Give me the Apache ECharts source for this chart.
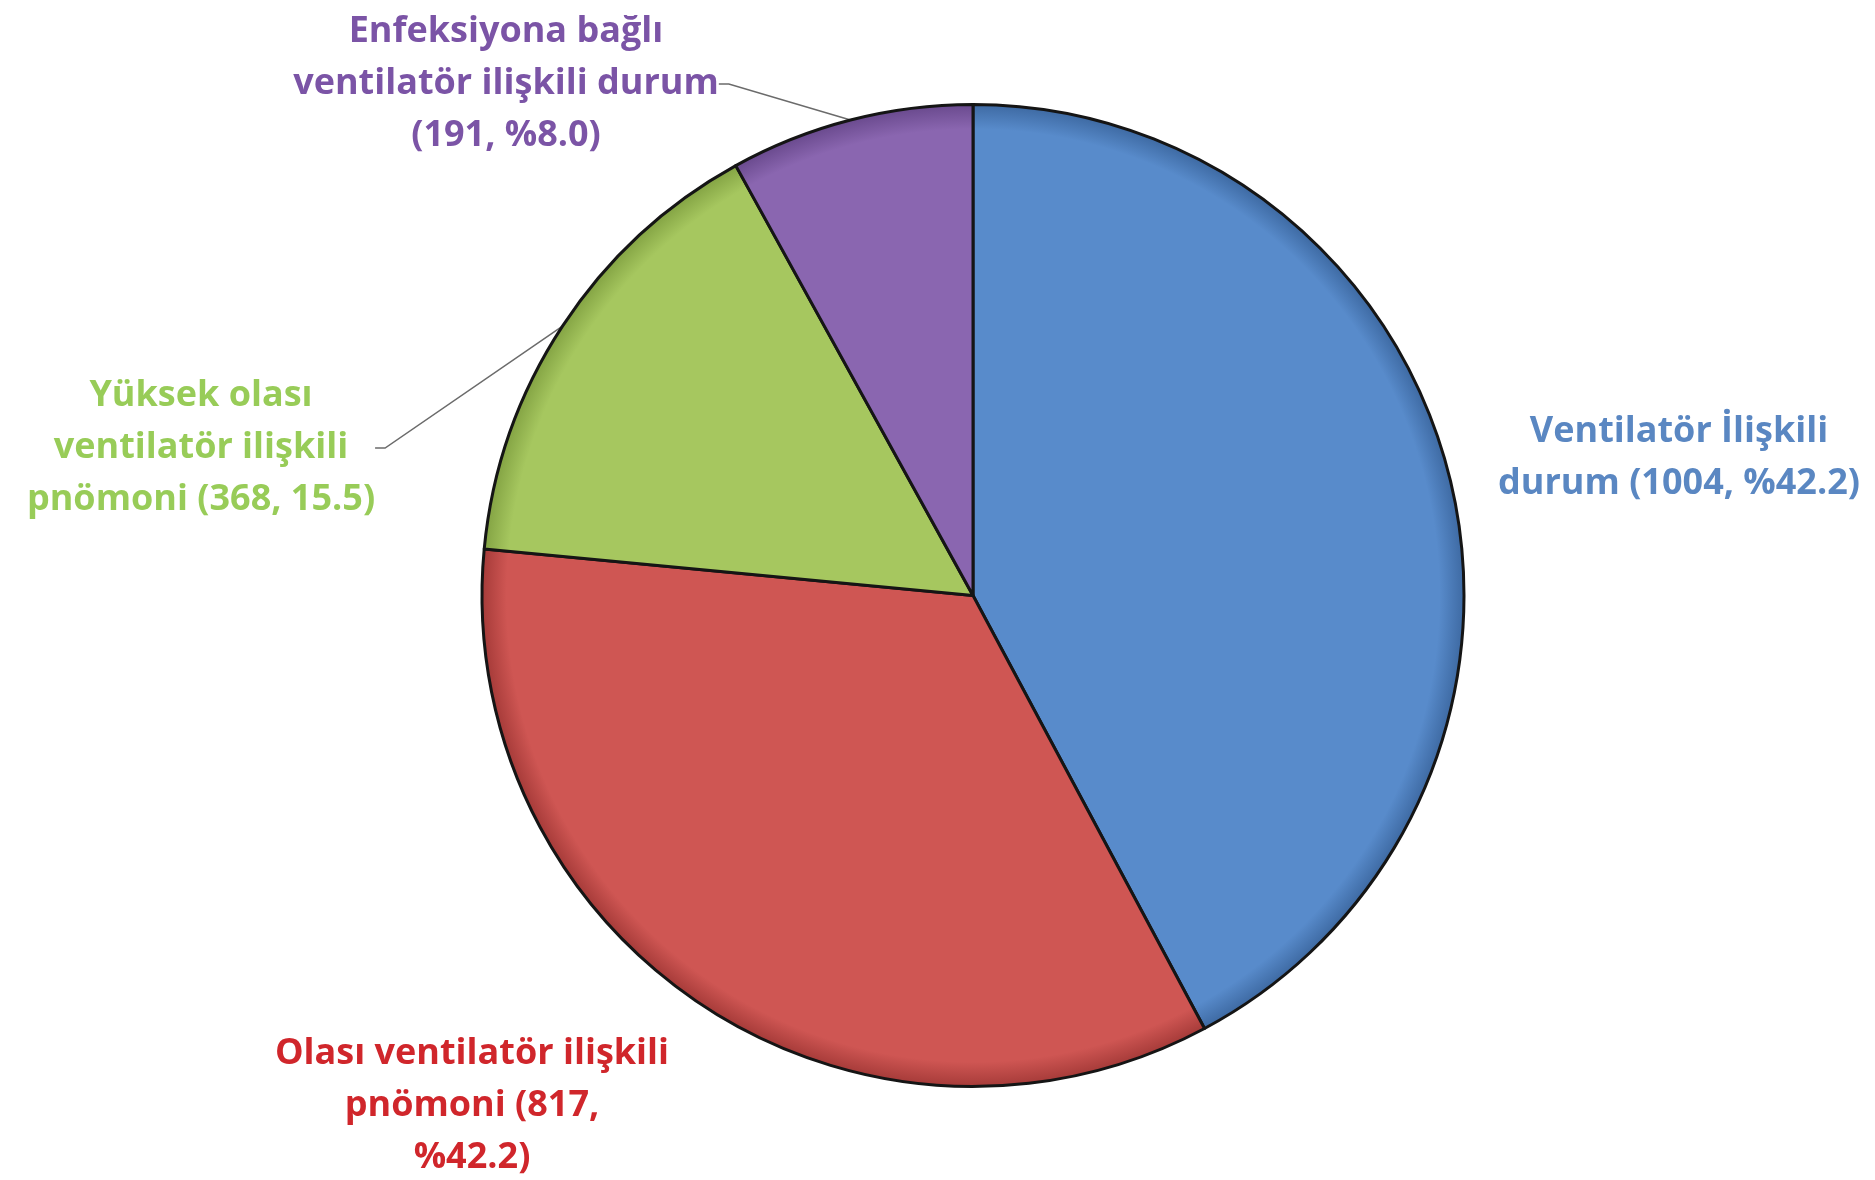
<!DOCTYPE html>
<html>
<head>
<meta charset="utf-8">
<script src="https://cdn.jsdelivr.net/npm/echarts@6/dist/echarts.min.js"></script>
<style>
html,body{margin:0;padding:0;background:#fff;}
#c{width:1875px;height:1180px;}
</style>
</head>
<body>
<div id="c"></div>
<script>
const categories = ['Ventilatör İlişkili durum', 'Olası ventilatör ilişkili pnömoni', 'Yüksek olası ventilatör ilişkili pnömoni', 'Enfeksiyona bağlı ventilatör ilişkili durum'];
const values = [1004, 817, 368, 191];
const percentText = ['%42.2', '%42.2', '15.5', '%8.0'];
const labelTemplates = [
  'Ventilatör İlişkili\ndurum ({v}, {p})',
  'Olası ventilatör ilişkili\npnömoni ({v},\n{p})',
  'Yüksek olası\nventilatör ilişkili\npnömoni ({v}, {p})',
  'Enfeksiyona bağlı\nventilatör ilişkili durum\n({v}, {p})'
];
const sliceColors = ['#588BCB', '#CF5653', '#A6C75F', '#8A66B0'];
const sliceEdgeColors = ['#3E6AA3', '#A63B39', '#84A444', '#6A4A8E'];
const labelColors = ['#5A87C2', '#D0262B', '#98CC58', '#7B54A6'];
const showLeader = [false, false, true, true];
const labelPos = [[1679, 458], [472, 1106], [201, 448], [506, 84]];

const CX = 973, CY = 595.5, R = 491;

const chart = echarts.init(document.getElementById('c'), null, {renderer: 'canvas'});
chart.setOption({
  backgroundColor: '#ffffff',
  animation: false,
  series: [{
    type: 'pie',
    center: [CX, CY],
    radius: R,
    startAngle: 90,
    clockwise: true,
    avoidLabelOverlap: false,
    itemStyle: { borderColor: '#151515', borderWidth: 3 },
    label: {
      show: true,
      position: 'outside',
      fontFamily: '"Open Sans", Lato, sans-serif',
      fontWeight: 'bold',
      fontSize: 36,
      lineHeight: 52,
      align: 'center',
      formatter: function (p) {
        return labelTemplates[p.dataIndex].replace('{v}', values[p.dataIndex]).replace('{p}', percentText[p.dataIndex]);
      }
    },
    labelLine: { show: true, length: 10, length2: 10, lineStyle: { color: '#6b6b6b', width: 1.5 } },
    labelLayout: function (params) {
      const pos = labelPos[params.dataIndex];
      return { x: pos[0], y: pos[1], align: 'center', verticalAlign: 'middle' };
    },
    data: categories.map(function (name, i) {
      return {
        name: name,
        value: values[i],
        itemStyle: {
          color: {
            type: 'radial', x: CX, y: CY, r: R, global: true,
            colorStops: [
              { offset: 0, color: sliceColors[i] },
              { offset: 0.95, color: sliceColors[i] },
              { offset: 1, color: sliceEdgeColors[i] }
            ]
          }
        },
        label: { color: labelColors[i] },
        labelLine: { show: showLeader[i] }
      };
    })
  }]
});
</script>
</body>
</html>
